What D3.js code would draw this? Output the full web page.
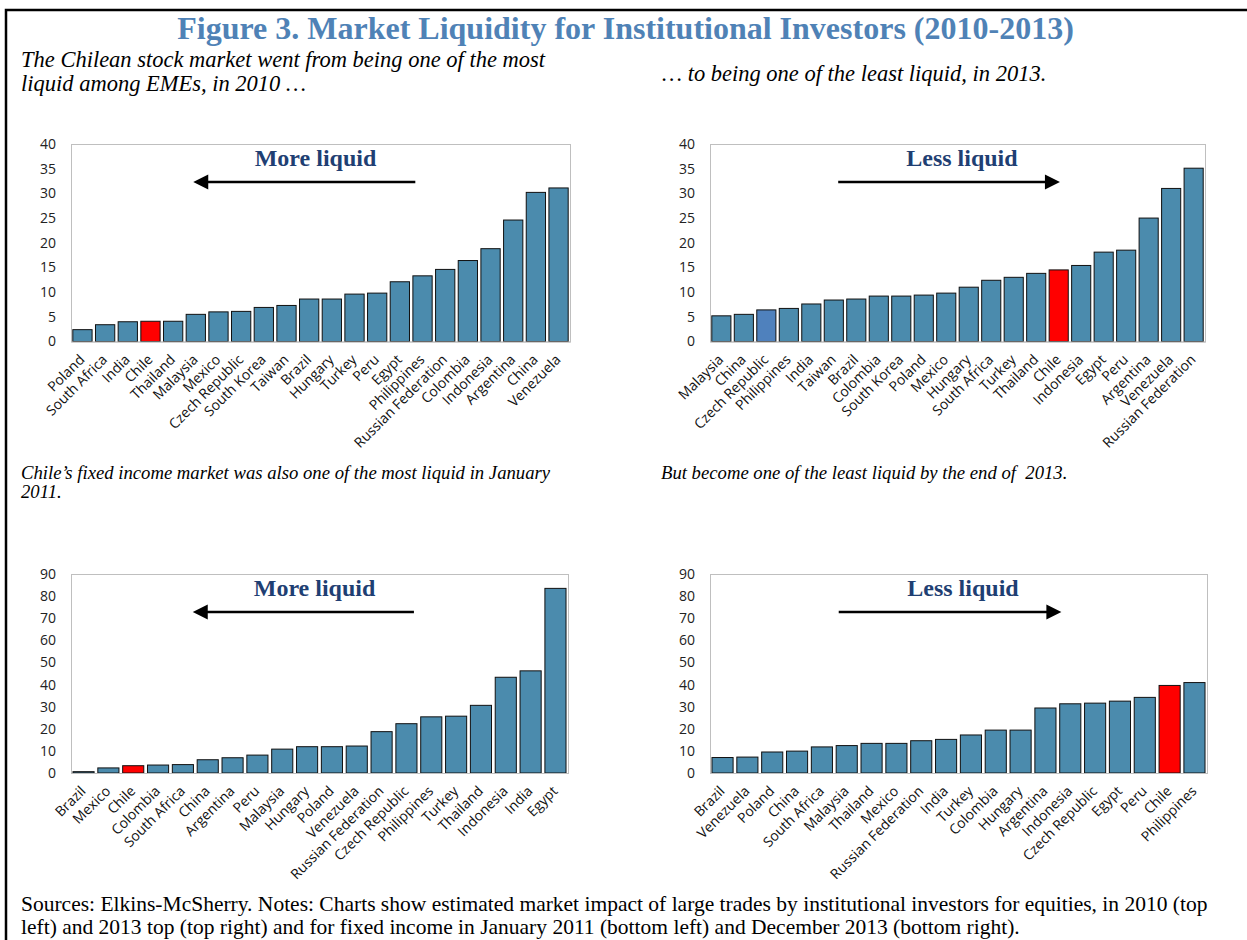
<!DOCTYPE html>
<html>
<head>
<meta charset="utf-8">
<script src="https://cdn.jsdelivr.net/npm/d3@7"></script>
<style>
  body { margin: 0; background: #fff; }
  text { white-space: pre; }
  .serif { font-family: "Liberation Serif", "Times New Roman", serif; }
  .sans { font-family: "Open Sans", "Noto Sans", sans-serif; }
</style>
</head>
<body>
<svg id="fig" width="1247" height="940"></svg>
<script>
// equities 2010 (top left)
var eq2010Countries = ["Poland","South Africa","India","Chile","Thailand","Malaysia","Mexico","Czech Republic","South Korea","Taiwan","Brazil","Hungary","Turkey","Peru","Egypt","Philippines","Russian Federation","Colombia","Indonesia","Argentina","China","Venezuela"];
var eq2010Values = [2.4,3.4,4.0,4.1,4.1,5.5,6.0,6.1,6.9,7.3,8.6,8.6,9.6,9.8,12.1,13.3,14.6,16.4,18.8,24.6,30.2,31.1];

// equities 2013 (top right)
var eq2013Countries = ["Malaysia","China","Czech Republic","Philippines","India","Taiwan","Brazil","Colombia","South Korea","Poland","Mexico","Hungary","South Africa","Turkey","Thailand","Chile","Indonesia","Egypt","Peru","Argentina","Venezuela","Russian Federation"];
var eq2013Values = [5.2,5.5,6.4,6.7,7.6,8.4,8.6,9.2,9.2,9.4,9.8,11.0,12.4,13.0,13.8,14.5,15.4,18.1,18.5,25.0,31.0,35.1];

// fixed income Jan 2011 (bottom left)
var fi2011Countries = ["Brazil","Mexico","Chile","Colombia","South Africa","China","Argentina","Peru","Malaysia","Hungary","Poland","Venezuela","Russian Federation","Czech Republic","Philippines","Turkey","Thailand","Indonesia","India","Egypt"];
var fi2011Values = [0.6,2.3,3.3,3.6,3.8,6.0,6.9,8.1,10.8,11.9,11.9,12.2,18.7,22.3,25.4,25.7,30.6,43.3,46.2,83.5];

// fixed income Dec 2013 (bottom right)
var fi2013Countries = ["Brazil","Venezuela","Poland","China","South Africa","Malaysia","Thailand","Mexico","Russian Federation","India","Turkey","Colombia","Hungary","Argentina","Indonesia","Czech Republic","Egypt","Peru","Chile","Philippines"];
var fi2013Values = [7.0,7.2,9.5,9.9,11.8,12.4,13.4,13.4,14.6,15.2,17.2,19.4,19.4,29.4,31.3,31.6,32.5,34.2,39.6,40.9];

var eqTicks = [0,5,10,15,20,25,30,35,40];
var fiTicks = [0,10,20,30,40,50,60,70,80,90];

var barColor = "#4B8BAD";
var chileColor = "#FF0000";
var czechColor = "#4F81BD";

var svg = d3.select("#fig");

// page frame
svg.append("path")
  .attr("d","M6,940V10H1247")
  .attr("fill","none").attr("stroke","#000").attr("stroke-width",2.5);

svg.append("text").attr("class","serif")
  .attr("x",625.5).attr("y",39)
  .attr("text-anchor","middle")
  .attr("font-size",32).attr("font-weight","bold")
  .attr("fill","#4F82B6")
  .text("Figure 3. Market Liquidity for Institutional Investors (2010-2013)");

function caption(x, y, size, step, lines) {
  var t = svg.append("text").attr("class","serif")
    .attr("font-size",size).attr("font-style","italic").attr("fill","#000");
  lines.forEach(function(l,i){
    t.append("tspan").attr("x",x).attr("y",y + i*step).text(l);
  });
}
caption(21, 67, 22.5, 24, ["The Chilean stock market went from being one of the most","liquid among EMEs, in 2010 …"]);
caption(662, 81, 22.5, 24, ["… to being one of the least liquid, in 2013."]);
caption(21, 479, 18.7, 19, ["Chile’s fixed income market was also one of the most liquid in January","2011."]);
caption(661, 479, 18.7, 19, ["But become one of the least liquid by the end of  2013."]);

var foot = svg.append("text").attr("class","serif").attr("font-size",21.5).attr("fill","#000");
foot.append("tspan").attr("x",21).attr("y",911)
  .text("Sources: Elkins-McSherry. Notes: Charts show estimated market impact of large trades by institutional investors for equities, in 2010 (top");
foot.append("tspan").attr("x",21).attr("y",934)
  .text("left) and 2013 top (top right) and for fixed income in January 2011 (bottom left) and December 2013 (bottom right).");

function drawPanel(p) {
  var x = d3.scaleBand().domain(p.names).range([p.left,p.right]).paddingInner(0.15).paddingOuter(0.08);
  var y = d3.scaleLinear().domain([0,d3.max(p.ticks)]).range([p.bottom,p.top]);
  var g = svg.append("g");

  // plot frame
  g.append("rect")
    .attr("x",p.left+0.5).attr("y",y(d3.max(p.ticks))+0.5)
    .attr("width",p.right-p.left).attr("height",p.bottom-y(d3.max(p.ticks)))
    .attr("fill","none").attr("stroke","#BFBFBF").attr("stroke-width",1);

  var yAxis = d3.axisLeft(y).tickValues(p.ticks).tickSize(0).tickPadding(15);
  var ya = g.append("g").attr("transform","translate("+p.left+",0)").call(yAxis);
  ya.select(".domain").remove();
  ya.selectAll("text").attr("class","sans").attr("font-size",14).attr("fill","#222");

  g.selectAll("rect.bar").data(p.values).enter().append("rect")
    .attr("class","bar")
    .attr("x",function(d,i){return x(p.names[i]);})
    .attr("y",function(d){return y(d);})
    .attr("width",x.bandwidth())
    .attr("height",function(d){return y(0)-y(d);})
    .attr("fill",function(d,i){return p.colors[p.names[i]] || barColor;})
    .attr("stroke","#111").attr("stroke-width",1);

  var xAxis = d3.axisBottom(x).tickSize(0).tickFormat("");
  var xa = g.append("g").attr("transform","translate(0,"+p.bottom+")").call(xAxis);
  xa.select(".domain").attr("stroke","#BFBFBF");

  g.selectAll("text.cat").data(p.names).enter().append("text")
    .attr("class","cat sans")
    .attr("font-size",14).attr("fill","#111")
    .attr("text-anchor","end")
    .attr("transform",function(d){return "translate("+(x(d)+x.bandwidth()/2+3)+","+(p.bottom+19)+") rotate(-45)";})
    .text(function(d){return d;});

  // direction annotation
  var w = p.right-p.left;
  g.append("text").attr("class","serif")
    .attr("x",p.left+w*p.labelAt).attr("y",p.top+22)
    .attr("text-anchor","middle")
    .attr("font-size",24).attr("font-weight","bold").attr("fill","#1F3F73")
    .text(p.label);
  var ax0 = p.left+w*p.arrowFrom, ax1 = p.left+w*p.arrowTo, ay = p.top+38;
  var dir = ax1 > ax0 ? 1 : -1;
  g.append("line")
    .attr("x1",ax0).attr("y1",ay).attr("x2",ax1-dir*12).attr("y2",ay)
    .attr("stroke","#000").attr("stroke-width",2.5);
  g.append("path")
    .attr("d","M"+ax1+","+ay+"L"+(ax1-dir*15)+","+(ay-7.5)+"L"+(ax1-dir*15)+","+(ay+7.5)+"Z")
    .attr("fill","#000");
}

drawPanel({names:eq2010Countries, values:eq2010Values, ticks:eqTicks,
  left:71, right:570, top:144, bottom:341.5, colors:{"Chile":chileColor},
  label:"More liquid", labelAt:0.49, arrowFrom:0.69, arrowTo:0.245});
drawPanel({names:eq2013Countries, values:eq2013Values, ticks:eqTicks,
  left:710, right:1205, top:144, bottom:341.5, colors:{"Chile":chileColor,"Czech Republic":czechColor},
  label:"Less liquid", labelAt:0.509, arrowFrom:0.259, arrowTo:0.707});
drawPanel({names:fi2011Countries, values:fi2011Values, ticks:fiTicks,
  left:71, right:568, top:574, bottom:773, colors:{"Chile":chileColor},
  label:"More liquid", labelAt:0.49, arrowFrom:0.69, arrowTo:0.245});
drawPanel({names:fi2013Countries, values:fi2013Values, ticks:fiTicks,
  left:710, right:1207, top:574, bottom:773, colors:{"Chile":chileColor},
  label:"Less liquid", labelAt:0.509, arrowFrom:0.259, arrowTo:0.707});
</script>
</body>
</html>
